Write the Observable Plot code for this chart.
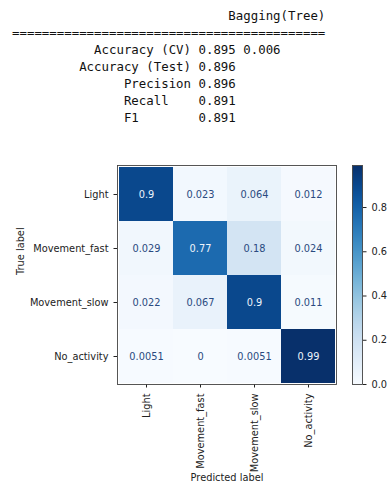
<!DOCTYPE html>
<html>
<head>
<meta charset="utf-8">
<script src="https://cdn.jsdelivr.net/npm/d3@7"></script>
<script src="https://cdn.jsdelivr.net/npm/@observablehq/plot@0.6"></script>
<style>
  body { margin: 0; background: #fff; }
  #chart { position: relative; width: 389px; }
  #summary {
    margin: 0;
    height: 140px;
    box-sizing: border-box;
    padding: 6.5px 0 0 12px;
    font-family: "DejaVu Sans Mono", monospace;
    font-size: 12.4px;
    line-height: 17px;
    color: #111;
  }
  #matrix { position: relative; height: 351px; }
  #matrix svg { position: absolute; top: 0; }
</style>
</head>
<body>
<div id="chart">
  <pre id="summary"></pre>
  <div id="matrix"></div>
</div>
<script>
// Model summary
const modelName = "Bagging(Tree)";
const metricLabels = ["Accuracy (CV)", "Accuracy (Test)", "Precision", "Recall   ", "F1       "];
const metricValues = [0.895, 0.896, 0.896, 0.891, 0.891];
const cvStd = 0.006;

// Normalized confusion matrix (rows: true label, columns: predicted label)
const classes = ["Light", "Movement_fast", "Movement_slow", "No_activity"];
const matrix = [
  [0.9, 0.023, 0.064, 0.012],
  [0.029, 0.77, 0.18, 0.024],
  [0.022, 0.067, 0.9, 0.011],
  [0.0051, 0, 0.0051, 0.99]
];
const colorbarTicks = [0, 0.2, 0.4, 0.6, 0.8];

// Text report
const lines = [];
lines.push(modelName.padStart(42));
lines.push("=".repeat(42));
metricLabels.forEach((label, i) => {
  let row = label.padStart(24) + " " + metricValues[i].toFixed(3);
  if (i === 0) row += " " + cvStd.toFixed(3);
  lines.push(row);
});
document.getElementById("summary").textContent = lines.join("\n");

// Heatmap data
const cells = [];
matrix.forEach((row, i) => row.forEach((v, j) => cells.push({truth: classes[i], pred: classes[j], value: v})));
const vmax = d3.max(cells, d => d.value);
const vmin = d3.min(cells, d => d.value);
const thresh = (vmax + vmin) / 2;
const fmt = d3.format(".2~g");

const font = {fontFamily: "DejaVu Sans, sans-serif", fontSize: "9.8px", color: "#222", background: "transparent"};
const colorScale = {type: "linear", scheme: "blues", domain: [0, vmax]};

const main = Plot.plot({
  width: 389,
  height: 351,
  marginTop: 25,
  marginBottom: 107,
  marginLeft: 117,
  marginRight: 53,
  style: font,
  x: {domain: classes, padding: 0, tickRotate: -90, tickSize: 3.5, label: null},
  y: {domain: classes, padding: 0, tickSize: 3.5, label: null},
  color: colorScale,
  marks: [
    Plot.cell(cells, {x: "pred", y: "truth", fill: "value"}),
    Plot.text(cells, {x: "pred", y: "truth", text: d => fmt(d.value), filter: d => d.value <= thresh, fill: "#2a4a80", fontSize: 9.8}),
    Plot.text(cells, {x: "pred", y: "truth", text: d => fmt(d.value), filter: d => d.value > thresh, fill: "#eef4fb", fontSize: 9.8}),
    Plot.frame({stroke: "#444", strokeWidth: 0.9}),
    Plot.text(["True label"], {frameAnchor: "left", dx: -97, rotate: -90, fill: "#222", fontSize: 9.8}),
    Plot.text(["Predicted label"], {frameAnchor: "bottom", dy: 96, fill: "#222", fontSize: 9.8})
  ]
});

// Vertical colorbar
const colorbar = Plot.plot({
  width: 49,
  height: 351,
  marginTop: 25,
  marginBottom: 107,
  marginLeft: 12,
  marginRight: 27,
  style: font,
  x: {domain: [0, 1], axis: null},
  y: {domain: [0, vmax], axis: "right", ticks: colorbarTicks, tickFormat: ".1f", tickSize: 3.5, label: null},
  color: colorScale,
  marks: [
    Plot.raster({fill: (x, y) => y, x1: 0, x2: 1, y1: 0, y2: vmax, width: 1, height: 220, imageRendering: "auto"}),
    Plot.frame({stroke: "#444", strokeWidth: 0.9})
  ]
});
colorbar.style.left = "340px";

const host = document.getElementById("matrix");
host.append(main, colorbar);
</script>
</body>
</html>
